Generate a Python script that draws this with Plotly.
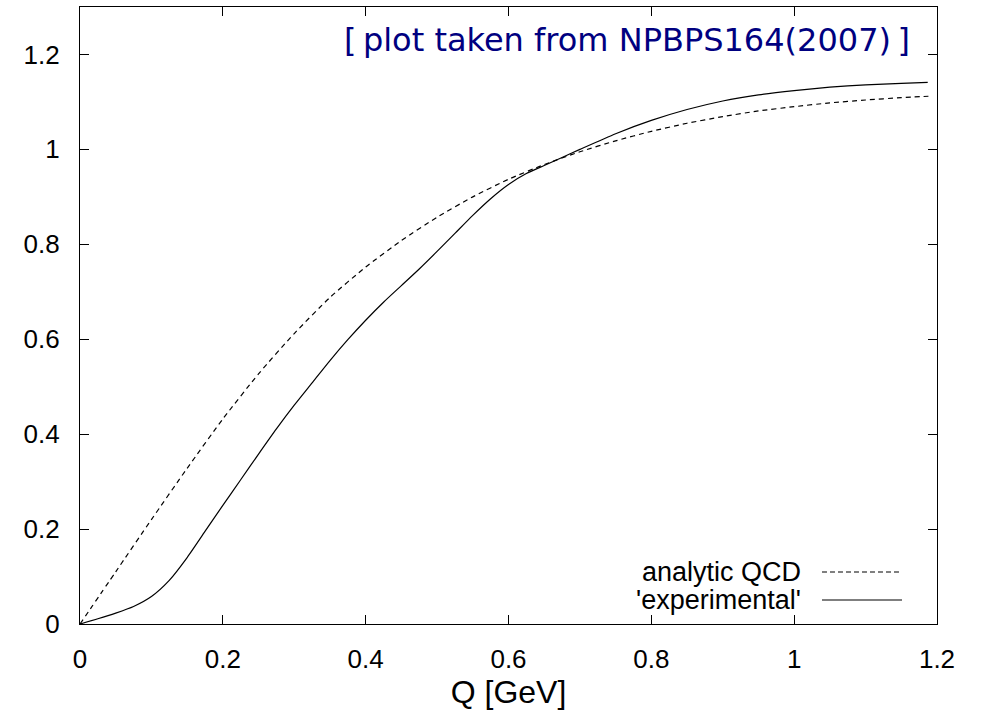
import plotly.graph_objects as go

# 'analytic QCD' (dashed)
q_analytic = [0, 0.05, 0.1, 0.15, 0.2, 0.25, 0.3, 0.35, 0.4, 0.45, 0.5, 0.55, 0.6,
              0.65, 0.7, 0.75, 0.8, 0.85, 0.9, 0.95, 1.0, 1.05, 1.1, 1.15, 1.188]
v_analytic = [0, 0.11, 0.22, 0.328, 0.432, 0.527, 0.612, 0.688, 0.752, 0.808, 0.857,
              0.9, 0.937, 0.968, 0.995, 1.018, 1.038, 1.055, 1.069, 1.081, 1.090,
              1.098, 1.104, 1.109, 1.112]

# 'experimental' (solid)
q_exp = [0, 0.025, 0.05, 0.075, 0.1, 0.125, 0.15, 0.175, 0.2, 0.225, 0.25, 0.275,
         0.3, 0.325, 0.35, 0.375, 0.4, 0.425, 0.45, 0.475, 0.5, 0.525, 0.55, 0.575,
         0.6, 0.625, 0.65, 0.675, 0.7, 0.75, 0.8, 0.85, 0.9, 0.95, 1.0, 1.05, 1.1,
         1.15, 1.187]
v_exp = [0, 0.011, 0.023, 0.037, 0.058, 0.092, 0.14, 0.195, 0.25, 0.304, 0.358, 0.411,
         0.461, 0.508, 0.555, 0.599, 0.64, 0.678, 0.713, 0.748, 0.785, 0.823, 0.861,
         0.896, 0.926, 0.949, 0.966, 0.983, 1.0, 1.033, 1.061, 1.084, 1.102, 1.115,
         1.124, 1.131, 1.136, 1.139, 1.141]

x_ticks = [0, 0.2, 0.4, 0.6, 0.8, 1.0, 1.2]
x_ticklabels = ["0", "0.2", "0.4", "0.6", "0.8", "1", "1.2"]
y_ticks = [0, 0.2, 0.4, 0.6, 0.8, 1.0, 1.2]
y_ticklabels = ["0", "0.2", "0.4", "0.6", "0.8", "1", "1.2"]

series_names = ["analytic QCD", "'experimental'"]

fig = go.Figure()
fig.add_trace(go.Scatter(x=q_analytic, y=v_analytic, mode="lines", name=series_names[0],
                         line=dict(color="black", width=1.2, dash="5px,4px", shape="spline", smoothing=0.6)))
fig.add_trace(go.Scatter(x=q_exp, y=v_exp, mode="lines", name=series_names[1],
                         line=dict(color="black", width=1.2, shape="spline", smoothing=0.6)))

helv = "Liberation Sans, Arial, Helvetica, sans-serif"
tick_font = dict(family=helv, size=26, color="black")

fig.update_layout(
    width=984, height=717,
    margin=dict(l=80, r=47, t=7, b=93),
    paper_bgcolor="white", plot_bgcolor="white",
    showlegend=False,
    font=tick_font,
    xaxis=dict(range=[0, 1.2], tickvals=x_ticks, ticktext=x_ticklabels,
               ticks="inside", ticklen=9, tickwidth=1.3, tickcolor="black",
               showline=True, linecolor="black", linewidth=1.3, mirror="ticks",
               showgrid=False, zeroline=False, ticklabelstandoff=12,
               title=dict(text="Q [GeV]", font=dict(family=helv, size=32), standoff=6)),
    yaxis=dict(range=[0, 1.3], tickvals=y_ticks, ticktext=y_ticklabels,
               ticks="inside", ticklen=9, tickwidth=1.3, tickcolor="black",
               showline=True, linecolor="black", linewidth=1.3, mirror="ticks",
               showgrid=False, zeroline=False, ticklabelstandoff=14),
)

# source note
fig.add_annotation(xref="paper", yref="paper", x=0.9708, y=0.9465, xanchor="right", yanchor="middle",
                   text="[\u2009plot taken from NPBPS164(2007)\u2009]", showarrow=False,
                   font=dict(family="DejaVu Sans, sans-serif", size=32, color="#000080"))

# gnuplot-style key (text then sample)
leg_y = [0.0843, 0.0389]
leg_dash = ["5px,3px", "solid"]
for name, yy, dsh in zip(series_names, leg_y, leg_dash):
    fig.add_annotation(xref="paper", yref="paper", x=0.8436, y=yy, xanchor="right", yanchor="middle",
                       text=name, showarrow=False,
                       font=dict(family=helv, size=27, color="black"))
    fig.add_shape(type="line", xref="paper", yref="paper", x0=0.8658, x1=0.9592, y0=yy, y1=yy,
                  line=dict(color="black", width=1.2, dash=dsh))

fig.write_html("out.html", config={"displayModeBar": False},
               post_script="document.body.style.margin='0';document.body.style.overflow='hidden';")
